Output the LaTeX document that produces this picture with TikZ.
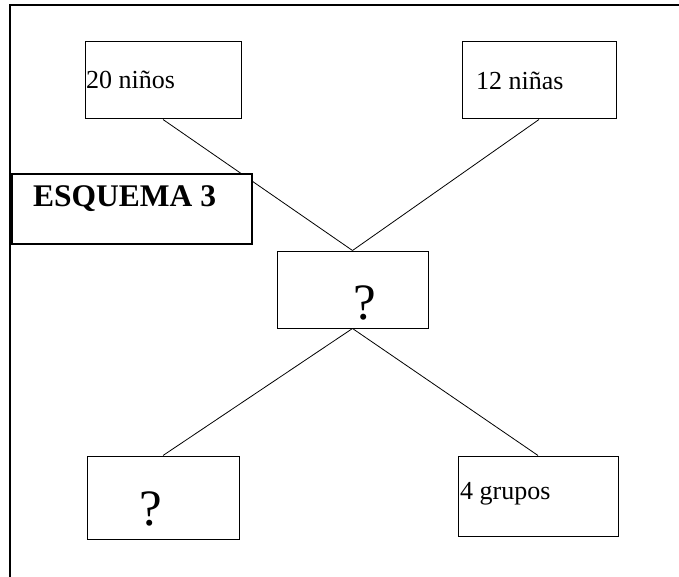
\documentclass[tikz,border=0pt]{standalone}
\usepackage{fontspec}
\setmainfont{Liberation Serif}
\begin{document}
\begin{tikzpicture}[x=1pt,y=-1pt,
  box/.style={draw,line width=1pt,fill=white,inner sep=0pt,rectangle},
  lbl/.style={inner sep=0pt,anchor=base west,font=\fontsize{26}{30}\selectfont},
  qmark/.style={inner sep=0pt,anchor=base west,font=\fontsize{51}{56}\selectfont},
  link/.style={line width=0.8pt}]
\useasboundingbox (0,0) rectangle (679,577);
\draw[line width=2pt] (10,577) -- (10,5) -- (679,5);
\node[box,minimum width=156pt,minimum height=77pt] (b1) at (163,80.5) {};
\node[box,minimum width=154pt,minimum height=77pt] (b2) at (539,80.5) {};
\node[box,minimum width=151pt,minimum height=77pt] (mid) at (352.5,289.5) {};
\node[box,minimum width=152pt,minimum height=83pt] (b3) at (163,497.5) {};
\node[box,minimum width=160pt,minimum height=80pt] (b4) at (538,496) {};
\draw[link] (b1.south) -- (mid.north);
\draw[link] (b2.south) -- (mid.north);
\draw[link] (mid.south) -- (b3.north);
\draw[link] (mid.south) -- (b4.north);
\node[box,line width=2pt,minimum width=240pt,minimum height=70pt] (esq) at (132,209) {};
\node[lbl] (t1) at (86,89) {20 niños};
\node[lbl] (t2) at (476,90) {12 niñas};
\node[lbl] (t4) at (460,499) {4 grupos};
\node[inner sep=0pt,anchor=base west,font=\fontsize{31.5}{36}\selectfont\bfseries] (te) at (33,207) {ESQUEMA 3};
\node[qmark] (q1) at (353,319) {?};
\node[qmark] (q2) at (139,525) {?};
\end{tikzpicture}
\end{document}
